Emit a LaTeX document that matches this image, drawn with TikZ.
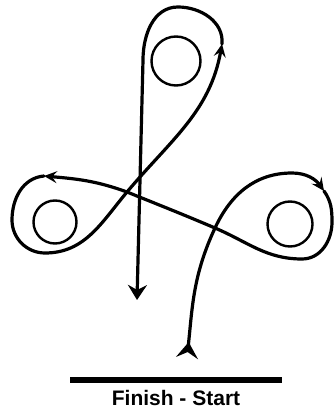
\documentclass[tikz,border=0pt]{standalone}
\usepackage{fontspec}
\setmainfont{Liberation Sans}
\usepackage{tikz}
\usetikzlibrary{arrows.meta,positioning,calc}
\tikzset{%
  % classes
  ring/.style={draw, circle, line width=2.4pt, inner sep=0pt},
  caption/.style={font=\bfseries\fontsize{21}{23}\selectfont, inner sep=0pt},
  % edge styles
  track/.style={line width=3.2pt, line cap=round},
  fwd/.style={track, -{Stealth[length=13pt, width=12pt, inset=5pt]}},
  launch/.style={track, {Stealth[reversed, length=16pt, width=22pt, inset=6pt]}-{Stealth[length=13pt, width=12pt, inset=5pt]}},
  halt/.style={track, -{Stealth[length=15pt, width=19pt, inset=5pt]}},
  bar/.style={line width=6pt},
}

\begin{document}
\begin{tikzpicture}[x=1pt, y=1pt]
  \useasboundingbox (0,0) rectangle (334,-411);

  % Targets
  \node[ring, minimum size=49pt] (toptarget) at (176,-61) {};
  \node[ring, minimum size=43pt] (lefttarget) at (55,-222) {};
  \node[ring, minimum size=45pt] (righttarget) at (290,-224) {};

  % Route points
  \coordinate (start) at (187,-358);
  \coordinate (xr) at (215,-228);
  \coordinate (xl) at (127,-192);
  \coordinate (rtop) at (292,-173);
  \coordinate (rarr) at (324,-191);
  \coordinate (rside) at (332,-222);
  \coordinate (rbot) at (302,-259);
  \coordinate (larr) at (44,-176);
  \coordinate (lside) at (12,-220);
  \coordinate (lbot) at (45,-253);
  \coordinate (tarr) at (222,-44);
  \coordinate (ttop) at (178,-7);
  \coordinate (tside) at (143,-60);
  \coordinate (finish) at (137,-300);

  % Route
  \draw[launch] (start) to[out=84,in=-115] (xr) to[out=65,in=180] (rtop) to[out=0,in=125] (rarr);
  \draw[fwd] (rarr) to[out=-55,in=90] (rside) to[out=-90,in=0] (rbot)
    to[out=180,in=-23] (xr) to[out=157,in=-22] (xl) to[out=160,in=-5] (larr);
  \draw[fwd] (larr) to[out=185,in=90] (lside) to[out=-90,in=180] (lbot)
    to[out=0,in=-130] (xl) to[out=50,in=-100] (tarr);
  \draw[halt] (tarr) to[out=85,in=0] (ttop) to[out=180,in=90] (tside) -- (finish);

  % Line
  \coordinate (barl) at (70,-380);
  \coordinate (barr) at (282,-380);
  \draw[bar] (barl) -- (barr);
  \node[caption, anchor=base] (label) at ($(barl)!0.5!(barr) + (0,-25)$) {Finish - Start};

\end{tikzpicture}
\end{document}
